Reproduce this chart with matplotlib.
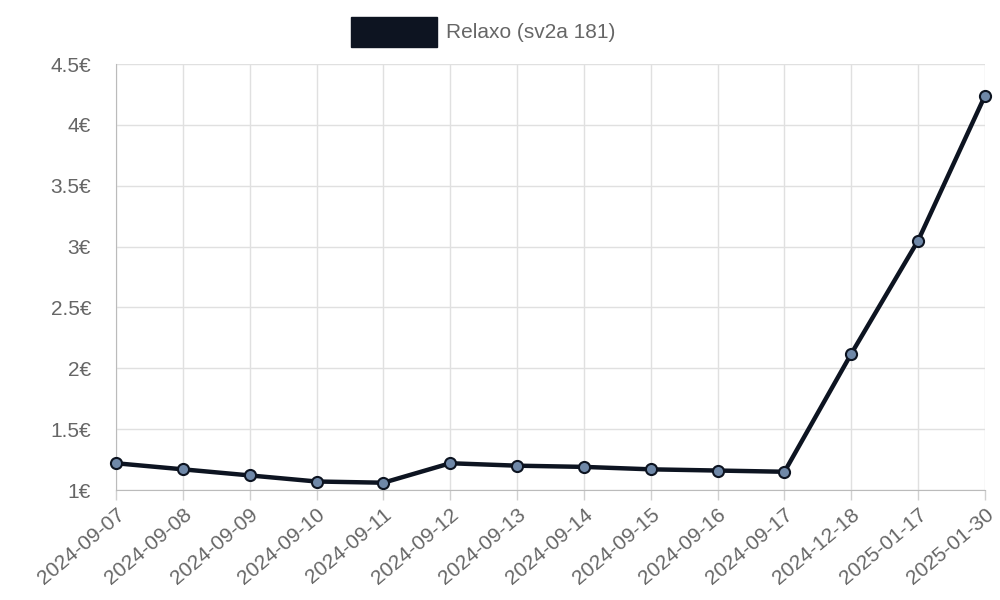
import matplotlib
matplotlib.use("Agg")
import matplotlib.pyplot as plt

dates = ["2024-09-07","2024-09-08","2024-09-09","2024-09-10","2024-09-11","2024-09-12",
         "2024-09-13","2024-09-14","2024-09-15","2024-09-16","2024-09-17","2024-12-18",
         "2025-01-17","2025-01-30"]
prices = [1.22,1.17,1.12,1.07,1.06,1.22,1.20,1.19,1.17,1.16,1.15,2.12,3.05,4.24]
yticks = [1,1.5,2,2.5,3,3.5,4,4.5]
label = "Relaxo (sv2a 181)"

plt.rcParams['font.family'] = ['Liberation Sans', 'DejaVu Sans']
fig = plt.figure(figsize=(10,6), dpi=100)
ax = fig.add_axes([0.116, 0.1833, 0.869, 0.71])
x = list(range(len(dates)))
ax.plot(x, prices, color="#0d1421", lw=3.2, marker="o", ms=8,
        mfc="#6f88a8", mec="#0d1421", mew=1.5, zorder=3, clip_on=False)
ax.set_xlim(0, len(dates)-1)
ax.set_ylim(1, 4.5)
ax.set_xticks(x)
ax.set_xticklabels(dates, rotation=40, ha="right", rotation_mode="anchor")
ax.set_yticks(yticks)
ax.set_yticklabels([f"{v:g}€" for v in yticks])
ax.grid(True, color="#e0e0e0", lw=1)
ax.tick_params(colors="#666666", labelsize=15, length=7, width=1)
ax.tick_params(axis="y", length=0, pad=18)
ax.tick_params(axis="x", color="#d0d0d0")
for s in ["top","right"]:
    ax.spines[s].set_visible(False)
for s in ["left","bottom"]:
    ax.spines[s].set_color("#bbbbbb")
# legend
fig.patches.append(plt.Rectangle((0.351, 1-47/600), 0.086, 30/600,
                                 transform=fig.transFigure, color="#0d1421"))
fig.text(0.446, 1-32/600, label, color="#666666", fontsize=15, va="center")
fig.savefig("out.png")
